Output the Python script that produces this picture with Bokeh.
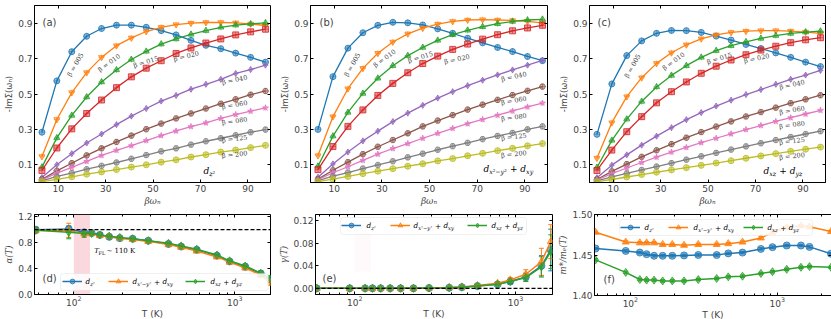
from bokeh.plotting import figure
from bokeh.layouts import column, row
from bokeh.models import (Label, BoxAnnotation, Span, Whisker, TeeHead, ColumnDataSource, FixedTicker,
                          PrintfTickFormatter, LinearAxis, Legend, LegendItem, Range1d,
                          GlobalInlineStyleSheet, CustomJSTickFormatter)
from bokeh.embed import file_html
from bokeh.resources import INLINE

# ---------------- data ----------------
betas = ["005", "010", "015", "020", "040", "060", "080", "125", "200"]
wn = [3.14, 9.42, 15.71, 21.99, 28.27, 34.56, 40.84, 47.12, 53.41, 59.69, 65.97, 72.26, 78.54, 84.82, 91.11, 97.39]

# (a) d_z2
a_b005 = [0.284, 0.574, 0.739, 0.826, 0.870, 0.889, 0.889, 0.877, 0.858, 0.834, 0.803, 0.775, 0.756, 0.731, 0.707, 0.680]
a_b010 = [0.147, 0.356, 0.508, 0.621, 0.707, 0.773, 0.817, 0.853, 0.877, 0.892, 0.900, 0.904, 0.904, 0.902, 0.896, 0.887]
a_b015 = [0.087, 0.252, 0.379, 0.483, 0.568, 0.636, 0.695, 0.741, 0.782, 0.811, 0.837, 0.858, 0.877, 0.889, 0.896, 0.902]
a_b020 = [0.068, 0.195, 0.303, 0.390, 0.466, 0.536, 0.597, 0.646, 0.688, 0.729, 0.760, 0.788, 0.811, 0.834, 0.851, 0.866]
a_b040 = [0.028, 0.100, 0.163, 0.223, 0.274, 0.327, 0.375, 0.418, 0.460, 0.492, 0.527, 0.555, 0.583, 0.616, 0.638, 0.663]
a_b060 = [0.018, 0.066, 0.109, 0.153, 0.193, 0.229, 0.265, 0.301, 0.333, 0.362, 0.390, 0.418, 0.445, 0.470, 0.496, 0.517]
a_b080 = [0.015, 0.053, 0.085, 0.119, 0.153, 0.182, 0.208, 0.237, 0.265, 0.291, 0.316, 0.337, 0.362, 0.384, 0.403, 0.422]
a_b125 = [0.009, 0.034, 0.053, 0.075, 0.094, 0.113, 0.134, 0.155, 0.176, 0.193, 0.214, 0.233, 0.250, 0.267, 0.284, 0.299]
a_b200 = [0.005, 0.018, 0.032, 0.047, 0.060, 0.073, 0.087, 0.100, 0.115, 0.128, 0.144, 0.157, 0.172, 0.183, 0.197, 0.210]

# (b) d_x2-y2 + d_xy
b_b005 = [0.300, 0.598, 0.759, 0.846, 0.888, 0.905, 0.902, 0.890, 0.868, 0.843, 0.815, 0.789, 0.763, 0.740, 0.712, 0.688]
b_b010 = [0.152, 0.372, 0.530, 0.645, 0.730, 0.794, 0.840, 0.872, 0.895, 0.910, 0.918, 0.920, 0.918, 0.915, 0.910, 0.902]
b_b015 = [0.092, 0.262, 0.396, 0.503, 0.589, 0.660, 0.717, 0.763, 0.803, 0.835, 0.860, 0.880, 0.897, 0.910, 0.918, 0.922]
b_b020 = [0.073, 0.203, 0.317, 0.410, 0.492, 0.560, 0.620, 0.672, 0.714, 0.752, 0.782, 0.810, 0.835, 0.857, 0.873, 0.888]
b_b040 = [0.030, 0.105, 0.172, 0.235, 0.290, 0.344, 0.392, 0.436, 0.477, 0.513, 0.547, 0.578, 0.608, 0.636, 0.663, 0.690]
b_b060 = [0.019, 0.069, 0.115, 0.160, 0.202, 0.240, 0.278, 0.317, 0.350, 0.381, 0.412, 0.440, 0.467, 0.494, 0.518, 0.542]
b_b080 = [0.016, 0.055, 0.089, 0.125, 0.160, 0.192, 0.220, 0.250, 0.278, 0.306, 0.332, 0.356, 0.380, 0.404, 0.427, 0.449]
b_b125 = [0.010, 0.036, 0.056, 0.079, 0.099, 0.120, 0.142, 0.163, 0.185, 0.205, 0.224, 0.245, 0.263, 0.280, 0.300, 0.317]
b_b200 = [0.005, 0.019, 0.034, 0.050, 0.064, 0.078, 0.092, 0.106, 0.122, 0.135, 0.151, 0.165, 0.180, 0.193, 0.207, 0.220]

# (c) d_xz + d_yz
c_b005 = [0.272, 0.557, 0.717, 0.800, 0.843, 0.859, 0.858, 0.848, 0.827, 0.805, 0.780, 0.757, 0.732, 0.707, 0.680, 0.655]
c_b010 = [0.138, 0.338, 0.485, 0.592, 0.673, 0.733, 0.778, 0.812, 0.834, 0.848, 0.855, 0.858, 0.858, 0.855, 0.850, 0.843]
c_b015 = [0.085, 0.238, 0.358, 0.458, 0.540, 0.605, 0.660, 0.707, 0.745, 0.773, 0.795, 0.814, 0.830, 0.842, 0.850, 0.855]
c_b020 = [0.068, 0.183, 0.287, 0.372, 0.450, 0.513, 0.568, 0.617, 0.657, 0.692, 0.722, 0.748, 0.770, 0.790, 0.806, 0.818]
c_b040 = [0.027, 0.098, 0.156, 0.211, 0.262, 0.310, 0.355, 0.395, 0.432, 0.465, 0.497, 0.525, 0.555, 0.583, 0.607, 0.633]
c_b060 = [0.017, 0.063, 0.104, 0.145, 0.182, 0.217, 0.253, 0.285, 0.316, 0.345, 0.373, 0.398, 0.423, 0.448, 0.470, 0.493]
c_b080 = [0.014, 0.050, 0.082, 0.113, 0.143, 0.172, 0.198, 0.225, 0.250, 0.275, 0.299, 0.322, 0.345, 0.366, 0.387, 0.408]
c_b125 = [0.009, 0.032, 0.051, 0.071, 0.090, 0.109, 0.129, 0.148, 0.167, 0.186, 0.204, 0.222, 0.240, 0.257, 0.274, 0.290]
c_b200 = [0.005, 0.017, 0.031, 0.045, 0.058, 0.071, 0.084, 0.097, 0.110, 0.123, 0.137, 0.150, 0.163, 0.176, 0.188, 0.200]

# bottom row
T = [58, 93, 116, 129, 145, 166, 193, 232, 290, 387, 464, 580, 774, 928, 1160, 1450, 1658]
T_f = [58, 93, 116, 129, 145, 166, 193, 232, 290, 387, 464, 580, 774, 928, 1160, 1450, 1658, 2321]

alpha_dz2 = [1.00, 1.01, 0.96, 0.95, 0.92, 0.89, 0.87, 0.86, 0.83, 0.78, 0.74, 0.69, 0.60, 0.51, 0.43, 0.32, 0.23]
alpha_dx2 = [0.99, 0.99, 0.94, 0.94, 0.91, 0.90, 0.87, 0.85, 0.82, 0.77, 0.73, 0.67, 0.58, 0.50, 0.41, 0.30, 0.19]
alpha_dxz = [0.99, 0.96, 0.94, 0.94, 0.92, 0.90, 0.88, 0.86, 0.83, 0.79, 0.75, 0.70, 0.61, 0.52, 0.44, 0.33, 0.24]
alpha_err_dz2 = [0.04, 0.03, 0.03, 0.02, 0.03, 0.03, 0.02, 0.02, 0.02, 0.02, 0.02, 0.02, 0.02, 0.02, 0.02, 0.03, 0.04]
alpha_err_dx2 = [0.04, 0.11, 0.06, 0.03, 0.03, 0.03, 0.02, 0.02, 0.02, 0.02, 0.02, 0.02, 0.02, 0.02, 0.03, 0.03, 0.05]
alpha_err_dxz = [0.04, 0.10, 0.05, 0.03, 0.03, 0.02, 0.02, 0.02, 0.02, 0.02, 0.02, 0.02, 0.02, 0.02, 0.03, 0.04, 0.05]

gamma_dz2 = [0.0, 0.0, 0.0, 0.0, 0.0, 0.0, 0.0, 0.0, 0.0005, 0.001, 0.002, 0.004, 0.007, 0.012, 0.020, 0.040, 0.068]
gamma_dx2 = [0.0, 0.0, 0.0, 0.0, 0.0, 0.0, 0.0, 0.0, 0.0005, 0.0015, 0.0025, 0.005, 0.009, 0.015, 0.025, 0.047, 0.083]
gamma_dxz = [0.0, 0.0, 0.0, 0.0, 0.0, 0.0, 0.0, 0.0, 0.0005, 0.001, 0.002, 0.004, 0.007, 0.012, 0.019, 0.038, 0.065]
gamma_err_dz2 = [0.001, 0.001, 0.001, 0.001, 0.001, 0.001, 0.001, 0.001, 0.001, 0.001, 0.001, 0.001, 0.002, 0.004, 0.007, 0.018, 0.037]
gamma_err_dx2 = [0.001, 0.001, 0.001, 0.001, 0.001, 0.001, 0.001, 0.001, 0.001, 0.001, 0.001, 0.001, 0.002, 0.004, 0.008, 0.024, 0.030]
gamma_err_dxz = [0.001, 0.001, 0.001, 0.001, 0.001, 0.001, 0.001, 0.001, 0.001, 0.001, 0.001, 0.001, 0.002, 0.004, 0.007, 0.018, 0.030]

mstar_dz2 = [1.458, 1.455, 1.453, 1.451, 1.449, 1.449, 1.449, 1.4495, 1.450, 1.450, 1.452, 1.453, 1.4575, 1.4597, 1.4617, 1.4617, 1.460, 1.4516]
mstar_dx2 = [1.478, 1.466, 1.465, 1.465, 1.465, 1.463, 1.463, 1.462, 1.463, 1.463, 1.464, 1.466, 1.471, 1.478, 1.484, 1.486, 1.485, 1.479]
mstar_dxz = [1.444, 1.4285, 1.4197, 1.419, 1.419, 1.418, 1.418, 1.418, 1.4197, 1.421, 1.423, 1.4238, 1.4272, 1.4294, 1.4323, 1.4348, 1.4357, 1.4348]
mstar_err = [0.0015, 0.0015, 0.0015, 0.0015, 0.0015, 0.0015, 0.0015, 0.0015, 0.0015, 0.0015, 0.0015, 0.0015, 0.0015, 0.0015, 0.0015, 0.0015, 0.0015, 0.0015]

colors = ["#1f77b4", "#ff7f0e", "#2ca02c", "#d62728", "#9467bd", "#8c564b", "#e377c2", "#7f7f7f", "#bcbd22"]
markers = ["circle", "inverted_triangle", "triangle", "square", "diamond", "hex", "star", "hex", "circle"]

TICK_FONT = "DejaVu Sans"
SERIF = "DejaVu Serif"

# ---------------- helpers ----------------
W = {'d': 0.64, 'x': 0.59, 'y': 0.59, 'z': 0.53, '²': 0.40, '−': 0.84, '+': 0.84, ' ': 0.32,
     'T': 0.61, 'F': 0.58, 'L': 0.56, '∼': 0.84, '1': 0.64, '0': 0.64, 'K': 0.72}


def tw(s, size):
    return sum(W.get(ch, 0.6) for ch in s) * size


def mtext(p, pieces, x, y, units, size):
    off = 0.0
    for txt, kind, style in pieces:
        fs = size if kind == "n" else size * 0.7
        yo = 0 if kind == "n" else -size * 0.3
        lead = len(txt) - len(txt.lstrip(" "))
        off += lead * 0.32 * fs
        core = txt.strip(" ")
        p.add_layout(Label(x=x, y=y, x_units=units, y_units=units, x_offset=off, y_offset=yo, text=core,
                           text_font=SERIF, text_font_style=style, text_font_size=f"{fs:.1f}px",
                           text_baseline="middle", text_align="left", text_color="black"))
        off += tw(core, fs)
        trail = len(txt) - len(txt.rstrip(" "))
        off += trail * 0.32 * fs


BLANK = "return ''"


def mirror_axis(ticker):
    return LinearAxis(ticker=ticker, formatter=CustomJSTickFormatter(code=BLANK),
                      major_label_text_font_size="1px", major_label_standoff=0, major_tick_in=3,
                      major_tick_out=0, minor_tick_in=2, minor_tick_out=0, axis_line_color=None)


def base_fig(fw, fh, bl, br, bt, bb, xr, yr, xlog, xticks, xminor, yticks, yminor, yfmt, xfmt, xlabel, ylabel,
             xl_font, yl_font, yl_style):
    p = figure(frame_width=fw, frame_height=fh, min_border_left=bl, min_border_right=br, min_border_top=bt,
               min_border_bottom=bb, x_range=Range1d(*xr), y_range=Range1d(*yr),
               x_axis_type="log" if xlog else "linear", output_backend="svg", toolbar_location=None)
    p.grid.visible = False
    p.outline_line_color = "black"
    p.outline_line_width = 1
    p.background_fill_color = "white"
    p.border_fill_color = "white"
    xt = FixedTicker(ticks=xticks, minor_ticks=xminor)
    yt = FixedTicker(ticks=yticks, minor_ticks=yminor)
    p.xaxis.ticker = xt
    p.yaxis.ticker = yt
    p.yaxis.formatter = PrintfTickFormatter(format=yfmt)
    if xfmt:
        p.xaxis.formatter = PrintfTickFormatter(format=xfmt)
    for ax in list(p.xaxis) + list(p.yaxis):
        ax.major_tick_in = 3
        ax.major_tick_out = 0
        ax.minor_tick_in = 2
        ax.minor_tick_out = 0
        ax.axis_line_color = "black"
        ax.major_label_text_font = TICK_FONT
        ax.major_label_text_font_size = "9px"
        ax.major_label_standoff = 2
        ax.axis_label_standoff = 1
    if xlog:
        p.xaxis.major_label_standoff = 1
        p.xaxis.axis_label_standoff = 0
    p.xaxis.axis_label = xlabel
    p.xaxis.axis_label_text_font = xl_font
    p.xaxis.axis_label_text_font_size = "9px"
    p.xaxis.axis_label_text_font_style = "italic" if xl_font == SERIF else "normal"
    p.yaxis.axis_label = ylabel
    p.yaxis.axis_label_text_font = yl_font
    p.yaxis.axis_label_text_font_size = "8.5px"
    p.yaxis.axis_label_text_font_style = yl_style
    p.add_layout(mirror_axis(xt), "above")
    p.add_layout(mirror_axis(yt), "right")
    return p


def panel_label(p, txt, x, y):
    p.add_layout(Label(x=x, y=y, x_units="screen", y_units="screen", text=txt, text_font=TICK_FONT,
                       text_font_size="10px", text_baseline="middle", text_align="left"))


# ---------------- top row ----------------
top_sets = [
    [a_b005, a_b010, a_b015, a_b020, a_b040, a_b060, a_b080, a_b125, a_b200],
    [b_b005, b_b010, b_b015, b_b020, b_b040, b_b060, b_b080, b_b125, b_b200],
    [c_b005, c_b010, c_b015, c_b020, c_b040, c_b060, c_b080, c_b125, c_b200],
]
top_geo = [(34, 6, 236), (34, 3, 237), (39, 6, 236)]
top_tags = ["(a)", "(b)", "(c)"]
top_tag_x = [8, 9, 8]
beta_pos = [
    [(17.3, 0.665, 60), (31.5, 0.675, 36), (47.0, 0.68, 17), (64.0, 0.712, 14), (84.4, 0.578, 12),
     (84.4, 0.437, 10), (84.4, 0.346, 8), (84.4, 0.246, 7), (84.4, 0.157, 6)],
    [(17.6, 0.665, 60), (31.2, 0.700, 36), (46.2, 0.707, 17), (61.5, 0.695, 12), (85.4, 0.597, 12),
     (85.4, 0.461, 10), (85.4, 0.367, 8), (85.4, 0.257, 7), (85.4, 0.159, 6)],
    [(18.2, 0.658, 60), (35.5, 0.684, 36), (54.8, 0.700, 17), (70.5, 0.700, 12), (85.4, 0.551, 12),
     (85.4, 0.407, 10), (85.4, 0.324, 8), (85.4, 0.233, 7), (85.4, 0.148, 6)],
]
orb_pieces = [
    [("d", "n", "italic"), ("z²", "s", "italic")],
    [("d", "n", "italic"), ("x²−y²", "s", "italic"), (" + ", "n", "normal"), ("d", "n", "italic"), ("xy", "s", "italic")],
    [("d", "n", "italic"), ("xz", "s", "italic"), (" + ", "n", "normal"), ("d", "n", "italic"), ("yz", "s", "italic")],
]
orb_pos = [(169, 12), (173, 14), (174, 12)]

top_figs = []
for k in range(3):
    bl, br, fw = top_geo[k]
    p = base_fig(fw, 177, bl, br, 5, 24, (0, 99.5), (0, 1.0), False, [10, 30, 50, 70, 90], [],
                 [0.1, 0.3, 0.5, 0.7, 0.9], [], "%.1f", "%d", "βωₙ", "-ImΣ(ωₙ)", SERIF, TICK_FONT, "normal")
    for i, ys in enumerate(top_sets[k]):
        c = colors[i]
        p.line(wn, ys, line_color=c, line_width=1.3)
        p.scatter(wn, ys, marker=markers[i], size=6, fill_color=c, fill_alpha=0.5, line_color=c, line_alpha=0.8)
        p.scatter(wn, ys, marker="cross", size=6, line_color=c, line_alpha=0.5, line_width=1)
        bx, by, ang = beta_pos[k][i]
        p.add_layout(Label(x=bx, y=by, text=f"β = {betas[i]}", angle=ang, angle_units="deg", text_font=SERIF,
                           text_font_size="6.5px", text_align="center", text_baseline="middle"))
    panel_label(p, top_tags[k], top_tag_x[k], 160)
    mtext(p, orb_pieces[k], orb_pos[k][0], orb_pos[k][1], "screen", 9)
    top_figs.append(p)

# ---------------- bottom row ----------------
bot_colors = ["#1f77b4", "#ff7f0e", "#2ca02c"]
bot_markers = ["circle", "triangle", "diamond"]
bot_sizes = [7, 7, 8]
log_minor = [60, 70, 80, 90, 200, 300, 400, 500, 600, 700, 800, 900, 2000]


def series(p, xs, ys, errs, c, m, s):
    src = ColumnDataSource(dict(x=xs, up=[a + b for a, b in zip(ys, errs)], lo=[a - b for a, b in zip(ys, errs)]))
    p.add_layout(Whisker(source=src, base="x", upper="up", lower="lo", dimension="height", line_color=c,
                         line_width=1, upper_head=TeeHead(size=5, line_color=c, line_width=1),
                         lower_head=TeeHead(size=5, line_color=c, line_width=1)))
    r1 = p.line(xs, ys, line_color=c, line_width=1.5)
    r2 = p.scatter(xs, ys, marker=m, size=s, fill_color=c, fill_alpha=0.55, line_color=c, line_alpha=0.8)
    return [r1, r2]


def bottom_legend(p, rends, box, glyph_cx, label_x, cy):
    left, right, bottom, top = box
    p.add_layout(BoxAnnotation(left=left, right=right, bottom=bottom, top=top, left_units="screen",
                               right_units="screen", bottom_units="screen", top_units="screen",
                               fill_color="white", fill_alpha=0.85, line_color="#cccccc", line_width=1,
                               border_radius=3))
    for j in range(3):
        lg = Legend(items=[LegendItem(label="", renderers=rends[j])], location=(glyph_cx[j] - 10, cy - 6),
                    orientation="horizontal", padding=0, margin=0, spacing=0, glyph_width=20, glyph_height=12,
                    label_standoff=0, label_width=0, label_height=12, border_line_alpha=0,
                    background_fill_alpha=0, label_text_font_size="8px")
        p.add_layout(lg)
        mtext(p, orb_pieces[j], label_x[j], cy, "screen", 7.3)


# (d)
pd_ = base_fig(236, 80, 34, 6, 6, 25, (57, 1665), (0, 1.235), True, [100, 1000], log_minor,
               [0.0, 0.4, 0.8, 1.2], [], "%.1f", None, "T (K)", "α(T)", TICK_FONT, SERIF, "italic")
pd_.add_layout(BoxAnnotation(left=100, right=126, fill_color="#f7b6c2", fill_alpha=0.55, line_alpha=0,
                             level="underlay"))
pd_.add_layout(Span(location=1.0, dimension="width", line_color="black", line_dash="4 2", line_width=1.2))
rd = [series(pd_, T, alpha_dz2, alpha_err_dz2, bot_colors[0], bot_markers[0], bot_sizes[0]),
      series(pd_, T, alpha_dx2, alpha_err_dx2, bot_colors[1], bot_markers[1], bot_sizes[1]),
      series(pd_, T, alpha_dxz, alpha_err_dxz, bot_colors[2], bot_markers[2], bot_sizes[2])]
mtext(pd_, [("T", "n", "italic"), ("FL", "s", "normal"), (" ∼ 110 K", "n", "normal")], 134, 0.67, "data", 7)
panel_label(pd_, "(d)", 8, 16)
bottom_legend(pd_, rd, (26, 234, 4, 21), [38, 84, 161], [51, 98, 176], 13)

# (e)
pe = base_fig(237, 80, 36, 3, 6, 25, (57, 1700), (-0.011, 0.131), True, [100, 1000], log_minor,
              [0.0, 0.04, 0.08, 0.12], [], "%.2f", None, "T (K)", "γ(T)", TICK_FONT, SERIF, "italic")
pe.add_layout(BoxAnnotation(left=100, right=126, bottom=0.03, top=0.125, fill_color="#f7b6c2", fill_alpha=0.08,
                            line_alpha=0, level="underlay"))
pe.add_layout(Span(location=0.0, dimension="width", line_color="black", line_dash="4 2", line_width=1.2))
re_ = [series(pe, T, gamma_dz2, gamma_err_dz2, bot_colors[0], bot_markers[0], bot_sizes[0]),
       series(pe, T, gamma_dx2, gamma_err_dx2, bot_colors[1], bot_markers[1], bot_sizes[1]),
       series(pe, T, gamma_dxz, gamma_err_dxz, bot_colors[2], bot_markers[2], bot_sizes[2])]
panel_label(pe, "(e)", 7, 16)
bottom_legend(pe, re_, (25, 211, 60, 77), [36, 85, 162], [51, 98, 176], 69)

# (f)
pf = base_fig(237, 81, 36, 6, 5, 25, (57, 2340), (1.40, 1.50), True, [100, 1000], log_minor,
              [1.40, 1.45, 1.50], [], "%.2f", None, "T (K)", "m*/mₑ(T)", TICK_FONT, SERIF, "italic")
rf = [series(pf, T_f, mstar_dz2, mstar_err, bot_colors[0], bot_markers[0], bot_sizes[0]),
      series(pf, T_f, mstar_dx2, mstar_err, bot_colors[1], bot_markers[1], bot_sizes[1]),
      series(pf, T_f, mstar_dxz, mstar_err, bot_colors[2], bot_markers[2], bot_sizes[2])]
panel_label(pf, "(f)", 9, 16)
bottom_legend(pf, rf, (25, 218, 60, 76), [36, 84, 159], [50, 99, 173], 68)

layout = column(row(*top_figs), row(pd_, pe, pf),
                stylesheets=[GlobalInlineStyleSheet(css="html, body { margin: 0; padding: 0; }")])

open("out.html", "w").write(file_html(layout, INLINE))
